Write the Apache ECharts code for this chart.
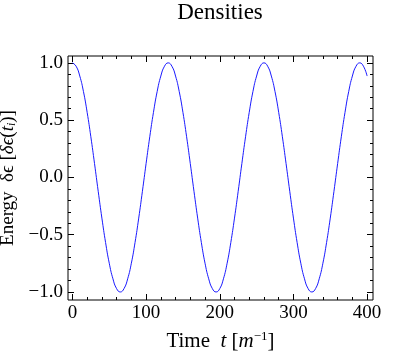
<!DOCTYPE html>
<html>
<head>
<meta charset="utf-8">
<script src="https://cdn.jsdelivr.net/npm/echarts@6/dist/echarts.min.js"></script>
<style>
  html, body { margin: 0; padding: 0; background: #fff; }
  #densities { width: 400px; height: 355px; }
</style>
</head>
<body>
<div id="densities"></div>
<script>
// time samples t [m^-1]
const times = [
  0, 5, 10, 15, 20, 25, 30, 35, 40, 45, 50, 55, 60, 65, 70, 75, 80, 85, 90, 95,
  100, 105, 110, 115, 120, 125, 130, 135, 140, 145, 150, 155, 160, 165, 170, 175, 180, 185, 190, 195,
  200, 205, 210, 215, 220, 225, 230, 235, 240, 245, 250, 255, 260, 265, 270, 275, 280, 285, 290, 295,
  300, 305, 310, 315, 320, 325, 330, 335, 340, 345, 350, 355, 360, 365, 370, 375, 380, 385, 390, 395,
  400
];
// energy density
const energy = [
  1.000, 0.971, 0.885, 0.749, 0.568, 0.355, 0.121, -0.121, -0.355, -0.568, -0.749, -0.885, -0.971,
  -1.000, -0.971, -0.885, -0.749, -0.568, -0.355, -0.121, 0.121, 0.355, 0.568, 0.749, 0.885, 0.971,
  1.000, 0.971, 0.885, 0.749, 0.568, 0.355, 0.121, -0.121, -0.355, -0.568, -0.749, -0.885, -0.971,
  -1.000, -0.971, -0.885, -0.749, -0.568, -0.355, -0.121, 0.121, 0.355, 0.568, 0.749, 0.885, 0.971,
  1.000, 0.971, 0.885, 0.749, 0.568, 0.355, 0.121, -0.121, -0.355, -0.568, -0.749, -0.885, -0.971,
  -1.000, -0.971, -0.885, -0.749, -0.568, -0.355, -0.121, 0.121, 0.355, 0.568, 0.749, 0.885, 0.971,
  1.000, 0.971, 0.885
];
const xTicks = [0, 100, 200, 300, 400];
const xMinorTicks = [20, 40, 60, 80, 120, 140, 160, 180, 220, 240, 260, 280, 320, 340, 360, 380];
const yTicks = [-1.0, -0.5, 0.0, 0.5, 1.0];
const yMinorTicks = [-0.9, -0.8, -0.7, -0.6, -0.4, -0.3, -0.2, -0.1, 0.1, 0.2, 0.3, 0.4, 0.6, 0.7, 0.8, 0.9];

const serif = "Liberation Serif";
const black = "#000";

const chart = echarts.init(document.getElementById("densities"));

function tickAxis(pos, values, len, labels, extra) {
  const isX = pos === "bottom" || pos === "top";
  return Object.assign({
    type: "value",
    position: pos,
    min: isX ? -6 : -1.07,
    max: isX ? 408 : 1.06,
    axisLine: { show: false, onZero: false },
    axisTick: { show: true, inside: true, length: len, customValues: values, lineStyle: { color: black, width: 1 } },
    axisLabel: labels
      ? {
          show: true,
          customValues: values,
          color: black,
          fontFamily: serif,
          fontSize: 19,
          margin: isX ? 4 : 5,
          formatter: (v) => (isX ? String(v) : v.toFixed(1).replace("-", "\u2212")),
        }
      : { show: false },
    splitLine: { show: false },
  }, extra || {});
}

const richName = {
  i: { fontStyle: "italic", fontFamily: serif, fontSize: 21, color: black },
  yi: { fontStyle: "italic", fontFamily: serif, fontSize: 19, color: black },
  sup: { fontStyle: "normal", fontFamily: serif, fontSize: 13, color: black, verticalAlign: "top", padding: [0, 0, 9, 0] },
  sub: { fontStyle: "italic", fontFamily: serif, fontSize: 12, color: black, verticalAlign: "bottom", padding: [7, 0, 0, 0] },
};

const options = {
  backgroundColor: "#fff",
  animation: false,
  title: {
    text: "Densities",
    left: 215,
    textAlign: "center",
    top: -4,
    textStyle: { fontFamily: serif, fontSize: 23, fontWeight: "normal", color: black },
  },
  grid: {
    left: 68,
    right: 27,
    top: 56,
    bottom: 55,
    show: true,
    borderColor: black,
    borderWidth: 1,
    outerBoundsMode: "none",
  },
  xAxis: [
    tickAxis("bottom", xTicks, 6, true, {
      name: "Time  {i|t} [{i|m}{sup|\u22121}]",
      nameLocation: "middle",
      nameGap: 30,
      nameTextStyle: { fontFamily: serif, fontSize: 21, color: black, rich: richName },
    }),
    tickAxis("bottom", xMinorTicks, 3, false),
    tickAxis("top", xTicks, 6, false),
    tickAxis("top", xMinorTicks, 3, false),
  ],
  yAxis: [
    tickAxis("left", yTicks, 6, true, {
      name: "Energy  \u03b4\u03f5 [{yi|\u03b4\u03f5}({yi|t}{sub|i})]",
      nameLocation: "middle",
      nameGap: 46,
      nameTextStyle: { fontFamily: serif, fontSize: 19, color: black, rich: richName },
    }),
    tickAxis("left", yMinorTicks, 3, false),
    tickAxis("right", yTicks, 6, false),
    tickAxis("right", yMinorTicks, 3, false),
  ],
  series: [
    {
      type: "line",
      xAxisIndex: 0,
      yAxisIndex: 0,
      data: times.map((t, i) => [t, energy[i]]),
      showSymbol: false,
      smooth: true,
      lineStyle: { color: "#1a1aff", width: 1 },
    },
  ],
};

chart.setOption(options);
</script>
</body>
</html>
